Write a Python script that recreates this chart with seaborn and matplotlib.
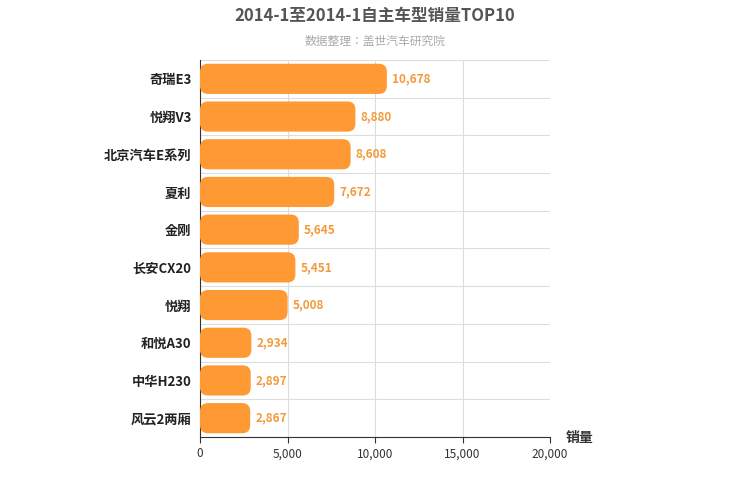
import matplotlib
matplotlib.use("Agg")
import matplotlib.pyplot as plt
import seaborn as sns
import pandas as pd
from matplotlib.patches import FancyBboxPatch

categories = ["奇瑞E3", "悦翔V3", "北京汽车E系列", "夏利", "金刚", "长安CX20", "悦翔", "和悦A30", "中华H230", "风云2两厢"]
sales = [10678, 8880, 8608, 7672, 5645, 5451, 5008, 2934, 2897, 2867]
xticks = [0, 5000, 10000, 15000, 20000]

plt.rcParams["font.family"] = ["Noto Sans CJK SC", "Noto Sans CJK JP", "Noto Sans CJK TC", "Noto Sans CJK KR", "DejaVu Sans"]
df = pd.DataFrame({"cat": categories, "sales": sales})
fig = plt.figure(figsize=(7.5, 5), dpi=100)
ax = fig.add_axes([200/750, 1-437/500, 350/750, 377/500])
sns.barplot(data=df, y="cat", x="sales", color="#FF9933", width=0.8, ax=ax, saturation=1, zorder=3)
ax.set_xlim(0, 20000)
ax.set_ylim(9.5, -0.5)

xu = 20000/350; yu = 10/377
for p in list(ax.patches):
    x0, y0, w, h = p.get_x(), p.get_y(), p.get_width(), p.get_height()
    r = 8*xu
    fb = FancyBboxPatch((x0, y0), w, h, boxstyle=f"round,pad=0,rounding_size={r}",
                        mutation_aspect=yu/xu, fc="#FF9933", ec="none", zorder=3)
    p.remove()
    ax.add_patch(fb)

for i, v in enumerate(sales):
    ax.text(v + 300, i, f"{v:,}", va="center", ha="left", color="#F39A3A", fontsize=8.5, fontweight="bold")

ax.set_xticks(xticks)
ax.set_xticklabels([f"{t:,}" for t in xticks], fontsize=8.5, color="#333")
ax.set_yticklabels(categories, fontsize=9.5, fontweight="bold", color="#222")
for x in xticks:
    ax.axvline(x, color="#dddddd", lw=0.8, zorder=0)
for y in range(11):
    ax.axhline(y - 0.5, color="#dddddd", lw=0.8, zorder=0)
for s in ["top", "right"]:
    ax.spines[s].set_visible(False)
ax.spines["left"].set_color("#333")
ax.spines["bottom"].set_color("#333")
ax.tick_params(axis="y", length=0, pad=6)
ax.tick_params(axis="x", length=4, color="#333")
ax.set_xlabel(""); ax.set_ylabel("")
fig.text(580/750, 1-438/500, "销量", fontsize=10, fontweight="bold", ha="center", va="center", color="#333")
fig.text(375/750, 1-16/500, "2014-1至2014-1自主车型销量TOP10", fontsize=12, fontweight="bold", ha="center", va="center", color="#555")
fig.text(375/750, 1-41/500, "数据整理：盖世汽车研究院", fontsize=8.5, ha="center", va="center", color="#aaa")
fig.savefig("out.png", dpi=100)
